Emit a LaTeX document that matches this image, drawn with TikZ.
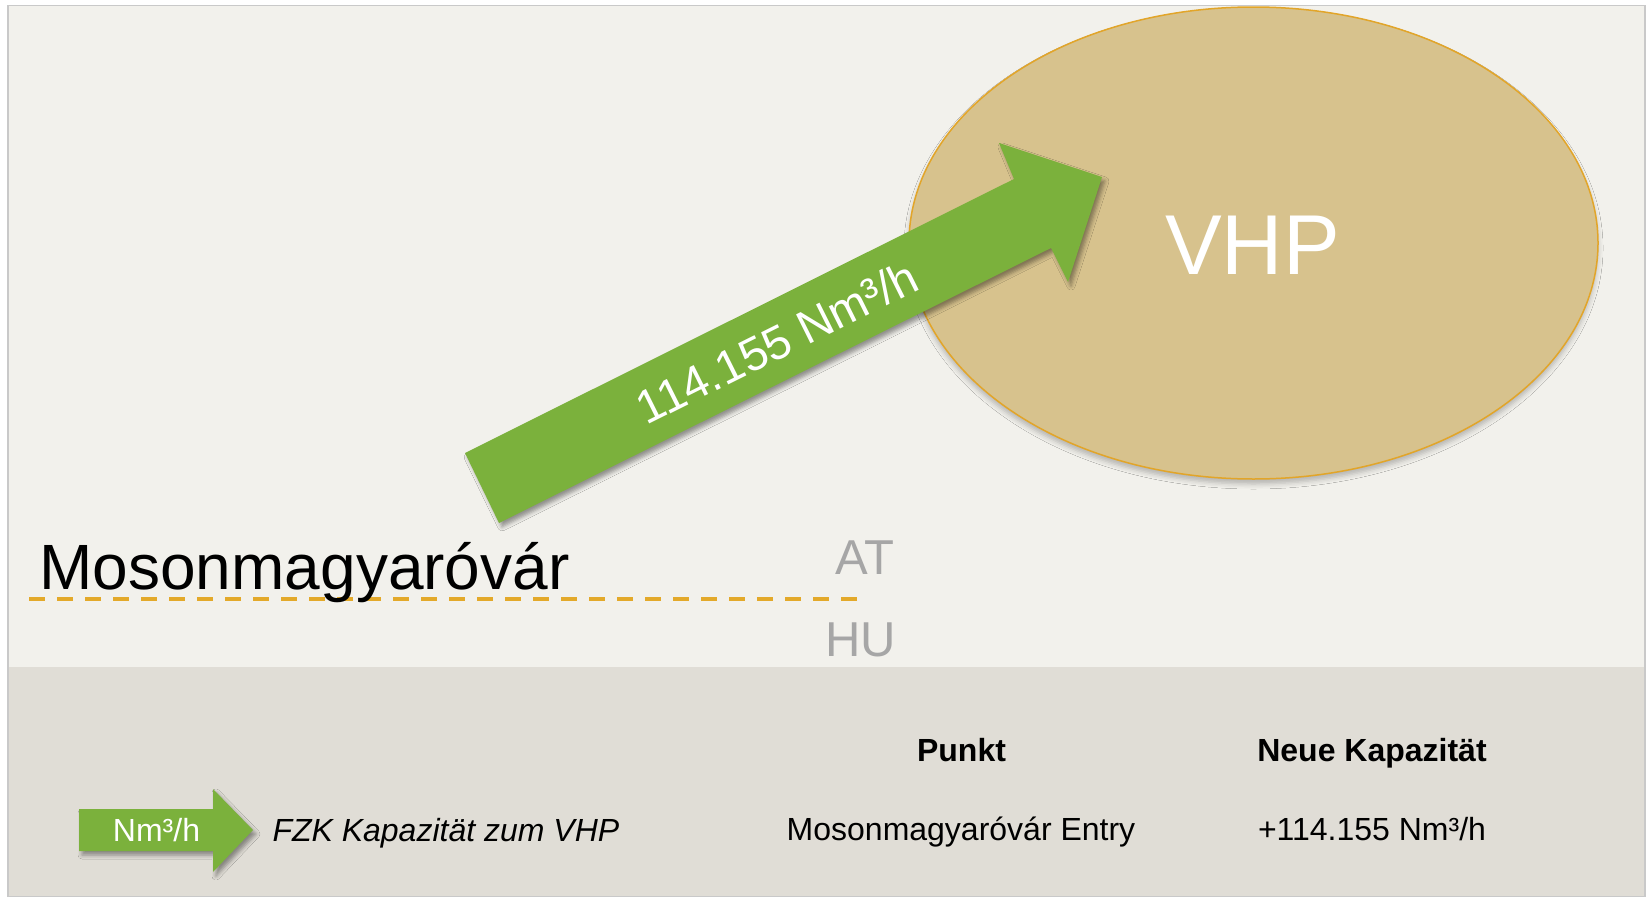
\documentclass[tikz,border=0pt]{standalone}
\usepackage{fontspec}
\setmainfont{Liberation Sans}
\usetikzlibrary{shadows.blur,shapes.geometric}
\definecolor{slidebg}{HTML}{F2F1EC}
\definecolor{panelbg}{HTML}{E0DDD6}
\definecolor{framegray}{HTML}{C9C9C9}
\definecolor{arrowgreen}{HTML}{7BB13C}
\definecolor{vhpfill}{HTML}{D7C28D}
\definecolor{vhpline}{HTML}{E2A529}
\definecolor{dashorange}{HTML}{E3A92A}
\definecolor{labelgray}{HTML}{A6A6A6}
\begin{document}
\begin{tikzpicture}[x=1pt,y=-1pt,
  softshadow/.style={blur shadow={shadow xshift=3pt, shadow yshift=-4pt, shadow blur radius=4pt, shadow opacity=40}},
  ovalshadow/.style={blur shadow={shadow xshift=0pt, shadow yshift=-5pt, shadow blur radius=5pt, shadow opacity=25}},
  flowarrow/.style={fill=arrowgreen, softshadow},
  plain/.style={inner sep=0pt, outer sep=0pt},
  tabletext/.style={plain, font=\fontsize{32}{38}\selectfont, text=black},
  tablehead/.style={tabletext, font=\fontsize{32}{38}\selectfont\bfseries},
  countrylabel/.style={plain, font=\fontsize{49}{58}\selectfont, text=labelgray, anchor=base east}]
\useasboundingbox (0,0) rectangle (1650,897);
\fill[white] (0,0) rectangle (1650,897);
% slide frame
\fill[framegray] (7,5) rectangle (1646,897);
\fill[slidebg] (9,6) rectangle (1644,667);
\fill[panelbg] (9,667) rectangle (1644,896);

% VHP oval
\node (vhp) [plain, ellipse, draw=vhpline, line width=1.5pt, fill=vhpfill,
  minimum width=689pt, minimum height=472pt, ovalshadow] at (1253.5,243) {};
\node (vhptext) [plain, anchor=base, text=white,
  font=\fontsize{85}{100}\selectfont,
  preaction={}] at (1252.5,274) {VHP};

% big flow arrow
\coordinate (tailtop) at (465,453);
\coordinate (tailbot) at (499,523);
\coordinate (shafttop) at (1014,179);
\coordinate (shaftbot) at (1051,248);
\coordinate (barbtop) at (999,143);
\coordinate (tip) at (1102,177);
\coordinate (barbbot) at (1068,282);
\path[flowarrow] (tailtop) -- (shafttop) -- (barbtop) -- (tip) -- (barbbot) -- (shaftbot) -- (tailbot) -- cycle;
\node (flowlabel) [plain, rotate=26.5, text=white, font=\fontsize{47}{56}\selectfont] at (777,342) {114.155 Nm³/h};

% border line
\coordinate (borderstart) at (29,599);
\coordinate (borderend) at (857,599);
\draw[dashorange, line width=4pt, dash pattern=on 16pt off 12pt] (borderstart) -- (borderend);
\node (city) [plain, anchor=base west, text=black, font=\fontsize{64}{76}\selectfont] at (39.5,589) {Mosonmagyaróvár};
\node (at) [countrylabel] at (894,574) {AT};
\node (hu) [countrylabel] at (896,656) {HU};

% legend
\coordinate (lshafttl) at (79,809);
\coordinate (lshafttr) at (213,809);
\coordinate (lheadtop) at (213,789);
\coordinate (ltip) at (253,830);
\coordinate (lheadbot) at (213,872);
\coordinate (lshaftbr) at (213,851);
\coordinate (lshaftbl) at (79,851);
\path[flowarrow] (lshafttl) -- (lshafttr) -- (lheadtop) -- (ltip) -- (lheadbot) -- (lshaftbr) -- (lshaftbl) -- cycle;
\node (legendunit) [tabletext, anchor=base, text=white] at (156.5,841) {Nm³/h};
\node (legendtext) [tabletext, anchor=base west, font=\fontsize{32}{38}\selectfont\itshape] at (272.5,841) {FZK Kapazität zum VHP};

% table
\node (headpoint) [tablehead, anchor=base] at (961.5,761) {Punkt};
\node (headcap) [tablehead, anchor=base] at (1372,761) {Neue Kapazität};
\node (rowpoint) [tabletext, anchor=base] at (961,840) {Mosonmagyaróvár Entry};
\node (rowcap) [tabletext, anchor=base] at (1372,840) {+114.155 Nm³/h};
\end{tikzpicture}
\end{document}
